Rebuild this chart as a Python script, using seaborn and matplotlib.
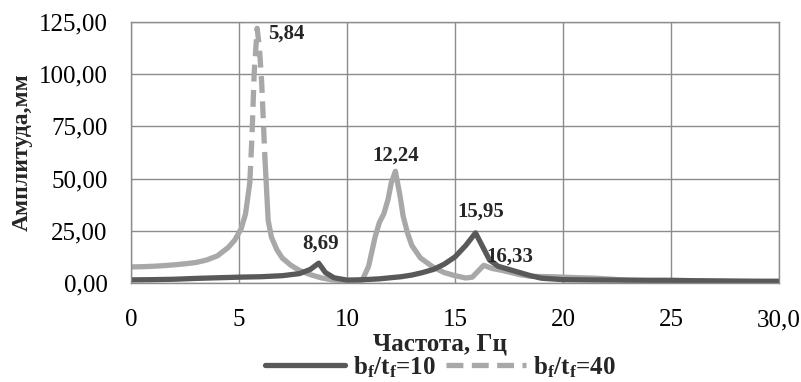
import numpy as np
import pandas as pd
import matplotlib
matplotlib.use("Agg")
import matplotlib.pyplot as plt
import seaborn as sns
from matplotlib.lines import Line2D

# ---- data ----
freq10 = [0, 1, 2, 3, 4, 5, 6, 7, 7.8, 8.3, 8.69, 9.0, 9.4, 10.0, 10.5, 11, 11.5, 12, 12.5, 13,
          13.5, 14, 14.5, 15, 15.5, 15.95, 16.3, 16.6, 17, 17.5, 18, 18.5, 19, 20, 21, 22, 23, 24,
          25, 26, 27, 28, 29, 30]
amp10 = [1.5, 1.6, 1.8, 2.2, 2.5, 2.8, 3.0, 3.5, 4.5, 6.5, 9.5, 5.0, 2.5, 1.4, 1.5, 1.7, 2.0, 2.5, 3.0, 3.8,
         5.0, 6.5, 9.0, 12.5, 18.0, 24.0, 17.0, 11.0, 8.0, 6.5, 5.0, 3.5, 2.3, 1.6, 1.5, 1.4, 1.4, 1.3,
         1.3, 1.1, 1.0, 0.9, 0.8, 0.8]

freq40 = [0, 0.5, 1, 1.5, 2, 2.5, 3, 3.5, 4, 4.5, 4.8, 5.1, 5.3, 5.5, 5.6, 5.7, 5.84, 5.95, 6.05, 6.2,
          6.35, 6.5, 6.75, 7.0, 7.4, 7.8, 8.3, 8.8, 9.3, 10, 10.7, 11.0, 11.3, 11.5, 11.7, 11.9, 12.05,
          12.24, 12.45, 12.6, 12.8, 13.0, 13.4, 14.0, 14.5, 15, 15.5, 15.8, 16.1, 16.33, 16.7, 17.2, 18,
          18.5, 19.5, 20.5, 21.5, 22.3, 23, 24, 25, 26, 27, 28, 29, 30]
amp40 = [7.7, 7.8, 8.0, 8.3, 8.7, 9.2, 9.8, 11, 13, 17, 20.5, 26, 33, 48, 70, 100, 122, 112, 96, 60,
         30, 22, 16, 12, 8.5, 6, 4, 2.5, 1.5, 1.0, 1.2, 8, 22, 29, 33, 40, 48,
         53.5, 42, 32, 24, 18, 12, 7.5, 5, 3.5, 2.4, 2.8, 6, 8.5, 7, 6, 4,
         3.2, 3.0, 2.6, 2.3, 1.8, 1.2, 1.1, 1.0, 0.9, 0.9, 0.8, 0.8, 0.8]

peak_labels = ["5,84", "8,69", "12,24", "15,95", "16,33"]
peak_freqs = [5.84, 8.69, 12.24, 15.95, 16.33]
peak_series = ["40", "10", "40", "10", "40"]

series_names = ["bf/tf=10", "bf/tf=40"]
xtick_vals = [0, 5, 10, 15, 20, 25, 30]
xtick_labels = ["0", "5", "10", "15", "20", "25", "30,0"]
ytick_vals = [0, 25, 50, 75, 100, 125]
ytick_labels = ["0,00", "25,00", "50,00", "75,00", "100,00", "125,00"]

# ---- style ----
sns.set_theme(style="white")
plt.rcParams["font.family"] = ["Liberation Serif", "DejaVu Serif"]
plt.rcParams["mathtext.fontset"] = "custom"
plt.rcParams["mathtext.rm"] = "Liberation Serif:bold"
plt.rcParams["mathtext.it"] = "Liberation Serif:bold"
plt.rcParams["mathtext.bf"] = "Liberation Serif:bold"
plt.rcParams["mathtext.default"] = "rm"

dark = "#595959"
light = "#a8a8a8"
lw = 3.8

fig = plt.figure(figsize=(8.01, 3.82), dpi=100)
ax = fig.add_axes([131 / 801, 1 - 283 / 382, 648 / 801, 261 / 382])

df10 = pd.DataFrame({"f": freq10, "a": amp10})
df40 = pd.DataFrame({"f": freq40, "a": amp40})

# light series: solid where dense, dashed over the steep peak
left = df40[df40.f <= 5.5]
mid = df40[(df40.f >= 5.5) & (df40.f <= 6.25)]
right = df40[df40.f >= 6.2]
for part in (left, right):
    sns.lineplot(data=part, x="f", y="a", ax=ax, color=light, lw=lw, sort=False,
                 estimator=None, legend=False, solid_joinstyle="round")
sns.lineplot(data=mid, x="f", y="a", ax=ax, color=light, lw=lw, sort=False,
             estimator=None, legend=False, linestyle=(0, (3.2, 1.6)))
sns.lineplot(data=df10, x="f", y="a", ax=ax, color=dark, lw=lw, sort=False,
             estimator=None, legend=False, solid_joinstyle="round")

ax.set_xlim(0, 30)
ax.set_ylim(0, 125)
ax.set_xticks(xtick_vals)
ax.set_xticklabels(xtick_labels)
ax.set_yticks(ytick_vals)
ax.set_yticklabels(ytick_labels)
ax.tick_params(axis="both", length=0, labelsize=18, colors="black")
ax.tick_params(axis="x", pad=19)
ax.tick_params(axis="y", pad=17)
ax.grid(True, color="#8c8c8c", lw=1.0)
for s in ax.spines.values():
    s.set_color("#8c8c8c")
    s.set_linewidth(1.0)

ax.set_xlabel("Частота, Гц", fontsize=18, fontweight="bold")
ax.set_ylabel("Амплитуда,мм", fontsize=17, fontweight="bold")
ax.xaxis.set_label_coords(0.477, -0.19)
ax.yaxis.set_label_coords(-0.152, 0.5)

# peak annotations (offsets in points)
offsets = {"5,84": (21, -4), "8,69": (1, 7), "12,24": (0, 4), "15,95": (4, 8), "16,33": (19, 6)}
for lab, fx, s in zip(peak_labels, peak_freqs, peak_series):
    d = df10 if s == "10" else df40
    y = float(d.loc[(d.f - fx).abs().idxmin(), "a"])
    dx, dy = offsets[lab]
    va = "center" if lab in ("5,84", "16,33") else "bottom"
    ax.annotate(lab, (fx, y), xytext=(dx, dy), textcoords="offset points",
                ha="center", va=va, fontsize=15, fontweight="bold", annotation_clip=False)

handles = [Line2D([], [], color=dark, lw=lw),
           Line2D([], [], color=light, lw=lw, linestyle=(0, (3.2, 1.6)))]
labels = [r"b$_{f}$/t$_{f}$=10", r"b$_{f}$/t$_{f}$=40"]
fig.legend(handles, labels, loc="center", bbox_to_anchor=(0.55, 0.04), ncol=2,
           frameon=False, handlelength=3.2, handletextpad=0.3, columnspacing=0.4,
           prop={"size": 18, "weight": "bold"})

fig.savefig("out.png", dpi=100)
